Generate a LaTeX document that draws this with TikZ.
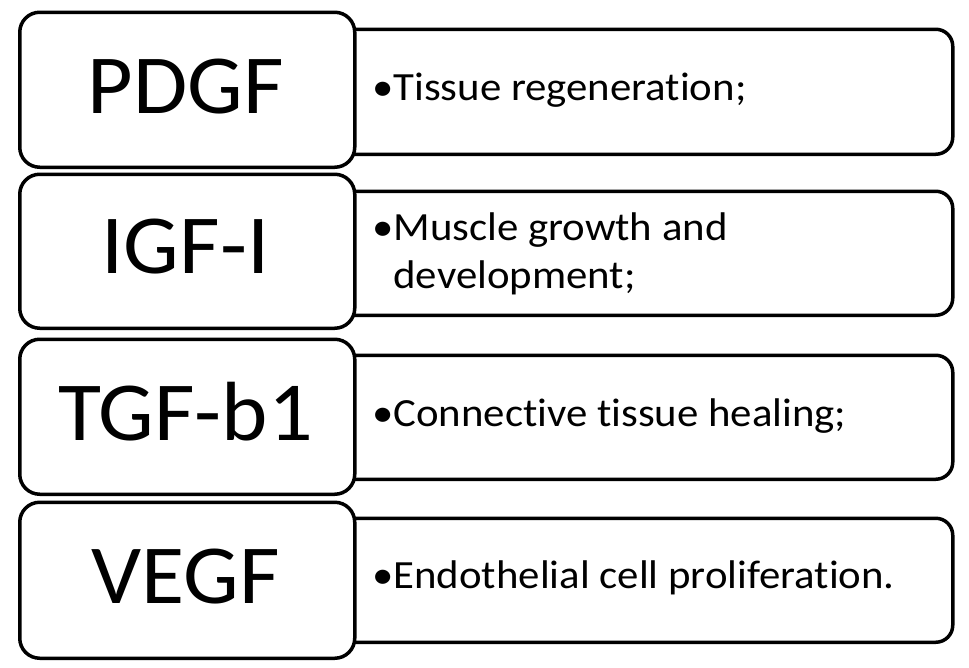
\documentclass[tikz,border=0pt]{standalone}
\usepackage{fontspec}
\setmainfont{Carlito}[Ligatures=NoCommon]
\newfontfamily\bigf{Carlito}[Ligatures=NoCommon, FakeStretch=1.05]
\newfontfamily\smallf{Carlito}[Ligatures=NoCommon, FakeStretch=1.07]
\begin{document}
\begin{tikzpicture}[x=1pt,y=-1pt,
  leftbox/.style={draw=black, line width=3.5pt, rounded corners=20pt, fill=white, inner sep=0pt, minimum width=335pt, anchor=north west},
  rightbox/.style={draw=black, line width=3.5pt, rounded corners=17pt, fill=white, inner sep=0pt, minimum width=621pt, minimum height=125pt, anchor=north west},
  bigtxt/.style={font=\bigf\fontsize{84}{100}\selectfont, anchor=base, inner sep=0pt},
  smalltxt/.style={font=\smallf\fontsize{40}{48}\selectfont, anchor=base west, inner sep=0pt}]
\useasboundingbox (0,0) rectangle (969,667);
% right boxes
\node[rightbox] (r1) at (330,27.5) {};
\node[rightbox, minimum height=124pt] (r2) at (330,189.5) {};
\node[rightbox, minimum height=124pt] (r3) at (330,353.5) {};
\node[rightbox, minimum height=124pt] (r4) at (330,516.5) {};
% left boxes
\node[leftbox, minimum height=155pt] (l1) at (18,10.5) {};
\node[leftbox, minimum height=154pt] (l2) at (18,172.5) {};
\node[leftbox, minimum height=155pt] (l3) at (18,337.5) {};
\node[leftbox, minimum height=156pt] (l4) at (18,500.5) {};
% labels
\node[bigtxt] (t1) at (185.5,113) {PDGF};
\node[bigtxt] (t2) at (185.5,273) {IGF-I};
\node[bigtxt] (t3) at (185.5,440) {TGF-b1};
\node[bigtxt] (t4) at (185.5,603) {VEGF};
\node[smalltxt] (d1) at (372,100) {•Tissue regeneration;};
\node[smalltxt] (d2) at (372,240) {•\begin{tabular}[t]{@{}l@{}}Muscle growth and\\development;\end{tabular}};
\node[smalltxt] (d3) at (372,426) {•Connective tissue healing;};
\node[smalltxt] (d4) at (372,588) {•Endothelial cell proliferation.};
\end{tikzpicture}
\end{document}
